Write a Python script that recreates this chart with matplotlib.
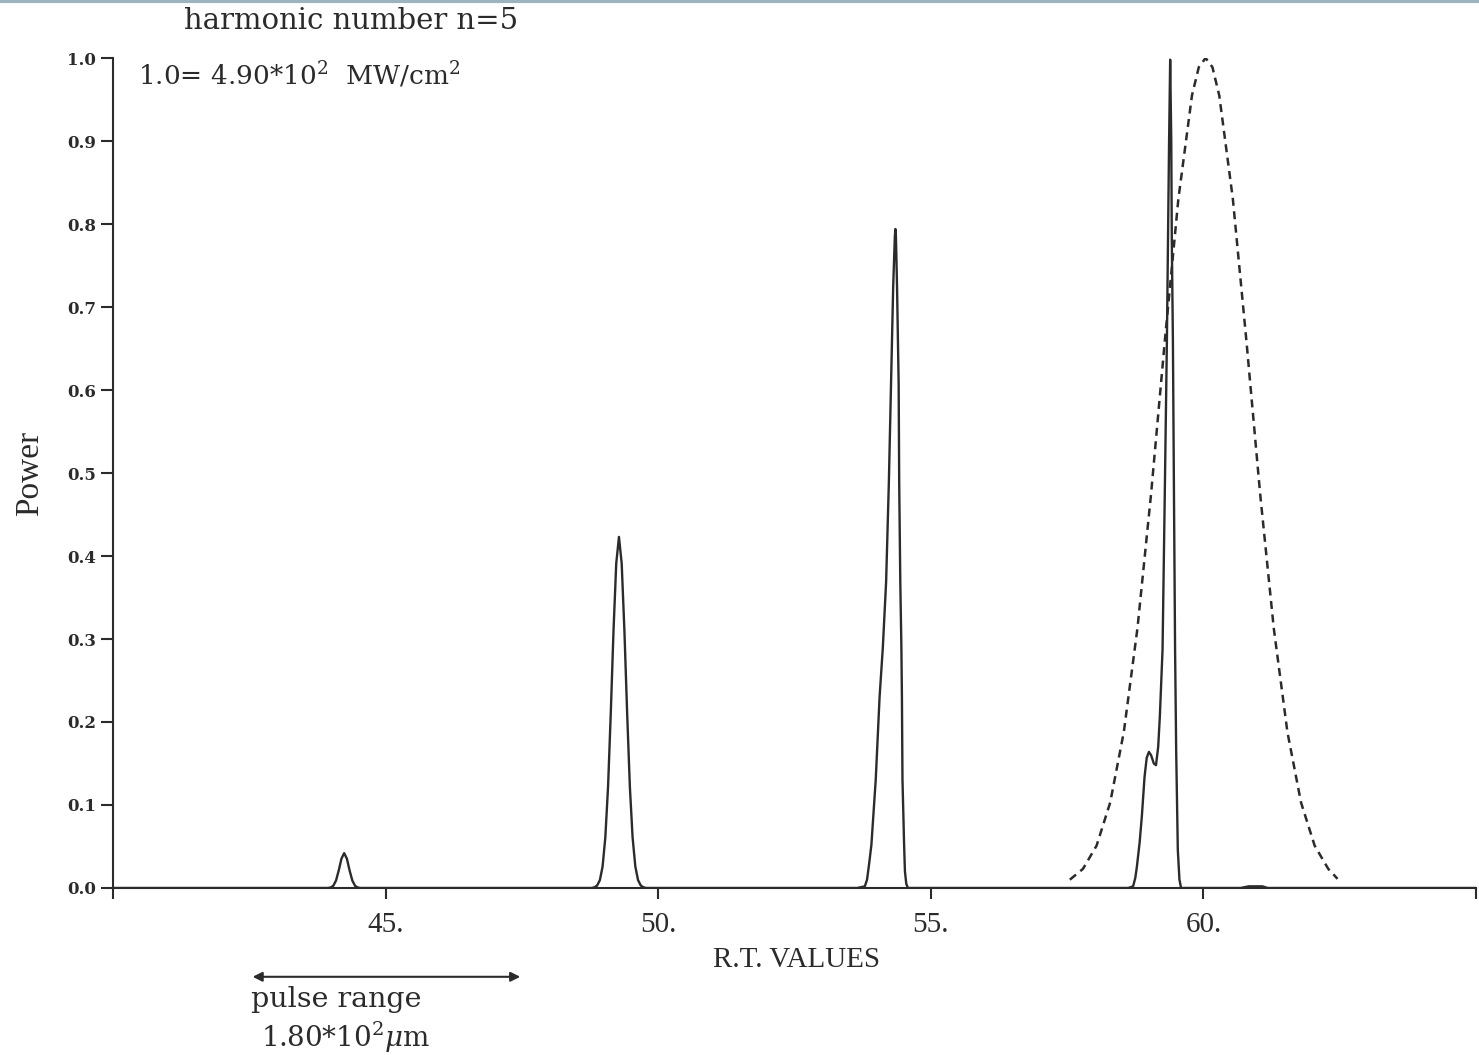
import matplotlib
matplotlib.use("Agg")
import matplotlib.pyplot as plt
from matplotlib.lines import Line2D

plt.rcParams['mathtext.fontset'] = 'dejavuserif'

# solid curve: harmonic power vs R.T.
solid_x = [40.0,
           43.94, 43.99, 44.04, 44.09, 44.14, 44.19, 44.24, 44.29, 44.34, 44.39, 44.44, 44.49, 44.54,
           48.78, 48.83, 48.88, 48.93, 48.98, 49.03, 49.08, 49.13, 49.18, 49.23, 49.28,
           49.33, 49.38, 49.43, 49.48, 49.53, 49.58, 49.63, 49.68, 49.73, 49.78,
           53.65, 53.79, 53.83, 53.87, 53.91, 53.99, 54.06, 54.12, 54.18, 54.23, 54.27, 54.31,
           54.34, 54.35, 54.36, 54.38, 54.41, 54.42, 54.44, 54.46, 54.47, 54.48, 54.51,
           54.525, 54.55, 54.58,
           58.62, 58.71, 58.75, 58.78, 58.83, 58.87, 58.92, 58.96, 59.00, 59.04, 59.09, 59.13,
           59.17, 59.20, 59.25, 59.29, 59.33, 59.35, 59.37, 59.39, 59.41, 59.42, 59.44, 59.46,
           59.48, 59.50, 59.53, 59.56, 59.59,
           60.68, 60.83, 61.08, 61.18,
           65.0]
solid_y = [0.0,
           0.0, 0.0006, 0.0026, 0.0089, 0.021, 0.0353, 0.042, 0.0353, 0.021, 0.0089, 0.0026, 0.0006, 0.0,
           0.0, 0.0008, 0.003, 0.0095, 0.026, 0.061, 0.122, 0.211, 0.310, 0.391, 0.423,
           0.391, 0.310, 0.211, 0.122, 0.061, 0.026, 0.0095, 0.003, 0.0008, 0.0,
           0.0, 0.002, 0.01, 0.03, 0.052, 0.131, 0.230, 0.290, 0.369, 0.488, 0.607, 0.7255,
           0.785, 0.794, 0.785, 0.7255, 0.607, 0.488, 0.369, 0.290, 0.230, 0.131, 0.052,
           0.02, 0.005, 0.0,
           0.0, 0.002, 0.012, 0.026, 0.055, 0.086, 0.134, 0.157, 0.164, 0.160, 0.150, 0.148,
           0.170, 0.206, 0.287, 0.47, 0.66, 0.78, 0.90, 0.998, 0.90, 0.78, 0.66, 0.47,
           0.287, 0.166, 0.046, 0.01, 0.0,
           0.0, 0.002, 0.002, 0.0,
           0.0]

# dashed curve (input pulse)
dash_x = [57.55, 57.79, 58.04, 58.29, 58.54, 58.79, 59.04, 59.29, 59.54, 59.79, 59.915,
          60.04, 60.165, 60.29, 60.54, 60.79, 61.04, 61.29, 61.54, 61.79, 62.04, 62.29, 62.46]
dash_y = [0.010, 0.023, 0.051, 0.103, 0.188, 0.313, 0.475, 0.658, 0.830, 0.955, 0.989,
          1.0, 0.989, 0.955, 0.830, 0.658, 0.475, 0.313, 0.188, 0.103, 0.051, 0.023, 0.011]

xticks = [40, 45, 50, 55, 60, 65]
xtick_labels = ['', '45.', '50.', '55.', '60.', '']
yticks = [0.0, 0.1, 0.2, 0.3, 0.4, 0.5, 0.6, 0.7, 0.8, 0.9, 1.0]
pulse_range = [42.51, 47.52]

fig = plt.figure(figsize=(14.79, 10.55), dpi=100)
ax = fig.add_axes([0.0764, 0.1583, 0.9216, 0.7867])

ink = '#2b2b2b'
ax.plot(solid_x, solid_y, color=ink, lw=1.7)
ax.plot(dash_x, dash_y, color=ink, lw=1.8, linestyle=(0, (3.2, 2.2)))

ax.set_xlim(40, 65)
ax.set_ylim(0, 1.0)
ax.spines['top'].set_visible(False)
ax.spines['right'].set_visible(False)
for s in ['left', 'bottom']:
    ax.spines[s].set_color(ink)
    ax.spines[s].set_linewidth(1.5)

ax.set_xticks(xticks)
ax.set_xticklabels(xtick_labels, family='Liberation Serif', fontsize=21)
ax.set_yticks(yticks)
ax.set_yticklabels(['%.1f' % v for v in yticks], family='DejaVu Serif',
                   fontweight='bold', fontsize=12)
ax.tick_params(axis='x', direction='out', length=8, width=1.5, color=ink, pad=9, labelcolor=ink)
ax.tick_params(axis='y', direction='out', length=9, width=1.5, color=ink, pad=3, labelcolor=ink)

fig.text(351 / 1479, 1 - 21 / 1055, 'harmonic number n=5', family='DejaVu Serif',
         fontsize=21, ha='center', va='center', color=ink)
ax.text((138 - 113) / 1363, (888 - 75) / 830, '1.0= 4.90*10$^2$  MW/cm$^2$', transform=ax.transAxes,
        family='DejaVu Serif', fontsize=19, ha='left', va='center', color=ink)
ax.text((796 - 113) / 1363, (888 - 960) / 830, 'R.T. VALUES', transform=ax.transAxes,
        family='Liberation Serif', fontsize=21, ha='center', va='center', color=ink)
ax.text((30 - 113) / 1363, 0.5, 'Power', transform=ax.transAxes, rotation=90,
        family='Liberation Serif', fontsize=24, ha='center', va='center', color=ink)

ax.annotate('', xy=(pulse_range[1], -0.107), xytext=(pulse_range[0], -0.107),
            xycoords=('data', 'axes fraction'), textcoords=('data', 'axes fraction'),
            arrowprops=dict(arrowstyle='<|-|>', color=ink, lw=1.5, mutation_scale=14),
            annotation_clip=False)
ax.text(44.09, (888 - 1000) / 830, 'pulse range', transform=ax.get_xaxis_transform(),
        family='DejaVu Serif', fontsize=20.5, ha='center', va='center', color=ink)
ax.text(44.26, (888 - 1037) / 830, '1.80*10$^2$$\\mu$m', transform=ax.get_xaxis_transform(),
        family='DejaVu Serif', fontsize=20, ha='center', va='center', color=ink)

# thin border line at the very top of the scan
fig.add_artist(Line2D([0, 1], [0.999, 0.999], transform=fig.transFigure, color='#9db3bd', lw=3))

fig.savefig('out.png', dpi=100)
